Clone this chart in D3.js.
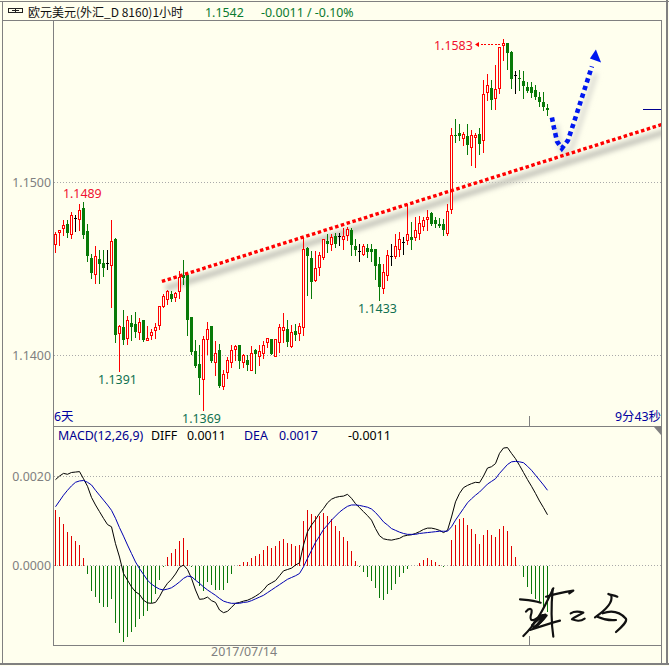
<!DOCTYPE html>
<html><head><meta charset="utf-8">
<script src="https://d3js.org/d3.v7.min.js"></script>
<style>
html,body{margin:0;padding:0;background:#ffffee;}
svg{display:block;}
text{font-family:"Noto Sans","Noto Sans CJK SC",sans-serif;font-size:12.4px;}
</style></head><body>
<svg id="c" width="669" height="666"></svg>
<script>
const opens=[1.1464,1.1471,1.14736,1.14762,1.14698,1.14794,1.14787,1.1485,1.14721,1.14561,1.14467,1.14559,1.14536,1.1453,1.14519,1.14671,1.1413,1.14162,1.14097,1.14189,1.1418,1.14131,1.14203,1.14089,1.14116,1.14147,1.14176,1.14286,1.14326,1.14357,1.14338,1.14368,1.14467,1.14463,1.1422,1.14027,1.13948,1.1386,1.14095,1.14168,1.13957,1.1403,1.13818,1.13899,1.13957,1.14037,1.14059,1.13957,1.13972,1.13916,1.14032,1.13997,1.14009,1.14078,1.14093,1.13997,1.14078,1.14147,1.14151,1.14053,1.1414,1.1413,1.14161,1.14619,1.14563,1.14436,1.14506,1.14569,1.1466,1.14639,1.14689,1.14689,1.14668,1.14696,1.14723,1.14631,1.146,1.14585,1.14619,1.14613,1.14613,1.1453,1.1439,1.14465,1.14571,1.14573,1.14615,1.14656,1.14665,1.14683,1.14681,1.14704,1.14748,1.14787,1.14821,1.14783,1.14763,1.14763,1.14708,1.14846,1.15276,1.15287,1.15257,1.1527,1.15205,1.15259,1.15278,1.15245,1.15519,1.15548,1.15488,1.15546,1.1579,1.15806,1.15756,1.15617,1.15605,1.15586,1.15551,1.1555,1.15532,1.15494,1.15463,1.15428];
const highs=[1.14713,1.14727,1.14781,1.14781,1.14829,1.1481,1.14877,1.14887,1.14762,1.14584,1.14631,1.14611,1.14611,1.14611,1.14781,1.14681,1.14178,1.14261,1.14226,1.14232,1.14251,1.14218,1.14203,1.14168,1.14155,1.14187,1.14289,1.14357,1.14376,1.1437,1.14367,1.14488,1.1455,1.14473,1.1422,1.14091,1.14058,1.1411,1.14193,1.14168,1.14084,1.14068,1.13914,1.13991,1.14059,1.14059,1.14059,1.1401,1.14001,1.14053,1.14039,1.14059,1.14082,1.14097,1.14093,1.14097,1.14184,1.14246,1.14203,1.14174,1.14184,1.14188,1.14685,1.14627,1.14602,1.14604,1.14598,1.14675,1.14704,1.147,1.14708,1.14708,1.14739,1.14743,1.14739,1.14675,1.14642,1.14646,1.14646,1.14646,1.14613,1.14569,1.1453,1.14607,1.14642,1.147,1.14713,1.14684,1.14873,1.14769,1.148,1.14804,1.148,1.14839,1.14829,1.148,1.14794,1.1479,1.14873,1.15314,1.15368,1.1534,1.15291,1.1534,1.15305,1.15286,1.15314,1.1559,1.15629,1.1559,1.15682,1.15783,1.15831,1.15806,1.15763,1.15644,1.15648,1.15644,1.1558,1.1558,1.15561,1.15523,1.15523,1.15451];
const lows=[1.14598,1.1464,1.14694,1.14684,1.14679,1.14719,1.14727,1.14681,1.14544,1.14447,1.1442,1.1442,1.14457,1.14501,1.1428,1.14078,1.1391,1.14068,1.14068,1.14087,1.14106,1.14097,1.14081,1.14087,1.14097,1.14103,1.14155,1.1428,1.14295,1.14315,1.14315,1.14334,1.14415,1.14116,1.1401,1.13933,1.13779,1.13683,1.1401,1.13962,1.13885,1.13818,1.13804,1.1387,1.13933,1.13972,1.13928,1.13933,1.13914,1.13914,1.13899,1.13943,1.13985,1.14049,1.14007,1.13997,1.1402,1.14078,1.14053,1.14049,1.14091,1.14091,1.14116,1.14348,1.14334,1.14431,1.14463,1.14556,1.14598,1.14608,1.14627,1.14637,1.14617,1.14666,1.14583,1.14583,1.14546,1.14579,1.14569,1.14546,1.14444,1.14322,1.14361,1.14438,1.14526,1.14563,1.14573,1.14584,1.14642,1.14615,1.14665,1.14675,1.14723,1.14723,1.14752,1.14742,1.14742,1.14694,1.14698,1.14823,1.15234,1.15247,1.15214,1.15162,1.15104,1.15089,1.15162,1.15176,1.15478,1.15422,1.15426,1.15517,1.15706,1.15654,1.15548,1.15517,1.15536,1.15488,1.15523,1.15494,1.15484,1.15445,1.15417,1.15393];
const closes=[1.14698,1.14721,1.1475,1.14708,1.14808,1.14794,1.14837,1.14698,1.14575,1.14476,1.14571,1.14528,1.14505,1.1453,1.14657,1.14118,1.14168,1.14089,1.14201,1.14162,1.14133,1.14189,1.14091,1.14097,1.14135,1.1416,1.14284,1.1434,1.14368,1.14326,1.14357,1.14449,1.14447,1.14205,1.1402,1.13939,1.13868,1.14091,1.14149,1.13968,1.1401,1.13825,1.13891,1.13972,1.1403,1.14053,1.13966,1.14001,1.13943,1.1401,1.14009,1.14024,1.14059,1.14097,1.14007,1.14093,1.14163,1.14163,1.14076,1.14134,1.14116,1.14168,1.14614,1.14573,1.14423,1.14502,1.14579,1.14669,1.14646,1.14683,1.14642,1.14689,1.14687,1.14729,1.14637,1.14608,1.146,1.14629,1.14596,1.14598,1.14515,1.14395,1.1448,1.14577,1.14571,1.14629,1.14669,1.14656,1.14698,1.14665,1.14723,1.14761,1.14781,1.14796,1.14758,1.14763,1.14746,1.14723,1.14831,1.1527,1.15266,1.15266,1.15276,1.15214,1.1527,1.1527,1.1522,1.15507,1.15559,1.15478,1.15536,1.15779,1.15806,1.1575,1.15598,1.15617,1.15598,1.15557,1.1553,1.15517,1.15494,1.15465,1.15436,1.1542];

const diff=[0.00193,0.00201,0.00207,0.00205,0.00209,0.0021,0.00211,0.00195,0.00178,0.00153,0.00136,0.00121,0.00106,0.00092,0.00087,0.00049,0.00019,-0.00018,-0.00033,-0.00048,-0.00059,-0.00065,-0.00078,-0.00084,-0.00085,-0.00083,-0.0007,-0.00053,-0.0004,-0.00031,-0.00019,-0.00004,0.00001,-0.00009,-0.00029,-0.00055,-0.00076,-0.00075,-0.00071,-0.00079,-0.00083,-0.001,-0.00106,-0.00103,-0.00094,-0.00085,-0.00083,-0.0008,-0.00078,-0.00074,-0.00069,-0.00063,-0.00055,-0.00044,-0.00039,-0.00034,-0.00023,-0.00012,-0.00009,-0.00006,0.00001,0.00006,0.00046,0.00076,0.00091,0.00103,0.00117,0.00128,0.00141,0.00149,0.00153,0.00155,0.00156,0.0016,0.00151,0.00139,0.0013,0.00121,0.00112,0.00102,0.00083,0.00067,0.0006,0.00058,0.00057,0.00059,0.00061,0.00066,0.00068,0.00069,0.00072,0.00076,0.00081,0.00084,0.00084,0.00082,0.00079,0.00074,0.00079,0.00109,0.00143,0.00162,0.00175,0.0018,0.00184,0.00187,0.00186,0.00201,0.00219,0.00222,0.00229,0.00252,0.00264,0.00265,0.00252,0.0024,0.00225,0.00209,0.00193,0.00178,0.00162,0.00145,0.0013,0.00114];
const dea=[0.00132,0.00145,0.00158,0.00169,0.00179,0.00187,0.0019,0.00191,0.00187,0.00181,0.00169,0.00158,0.00147,0.00136,0.00124,0.00106,0.00085,0.00066,0.00046,0.00027,0.00008,-0.00007,-0.0002,-0.00033,-0.00042,-0.00048,-0.00053,-0.00055,-0.00053,-0.0005,-0.00044,-0.00037,-0.00029,-0.00024,-0.00025,-0.00033,-0.0004,-0.00048,-0.00055,-0.00061,-0.00067,-0.00074,-0.0008,-0.00083,-0.00085,-0.00085,-0.00085,-0.00083,-0.00082,-0.00079,-0.00075,-0.00071,-0.00067,-0.00061,-0.00055,-0.00049,-0.00043,-0.00037,-0.00031,-0.00027,-0.00023,-0.00018,-0.00003,0.00016,0.00034,0.00052,0.00066,0.00081,0.00091,0.00102,0.00111,0.0012,0.00127,0.00133,0.00136,0.00136,0.00135,0.00133,0.00131,0.00127,0.00119,0.00109,0.00098,0.00091,0.00083,0.00079,0.00075,0.00072,0.0007,0.0007,0.0007,0.00072,0.00073,0.00074,0.00075,0.00076,0.00077,0.00077,0.00077,0.00087,0.00102,0.00115,0.00128,0.00141,0.0015,0.00158,0.00165,0.00174,0.00183,0.00189,0.00195,0.00207,0.00217,0.00227,0.00233,0.00234,0.00233,0.00231,0.00223,0.00214,0.00203,0.00192,0.00181,0.00169];
const hist=[0.00124,0.00109,0.00094,0.00075,0.00066,0.00055,0.00046,0.00016,-0.00019,-0.00058,-0.00071,-0.00084,-0.00093,-0.00093,-0.00075,-0.00129,-0.00151,-0.00172,-0.0016,-0.00149,-0.00139,-0.0012,-0.00114,-0.00103,-0.00085,-0.00064,-0.00033,-0.00003,0.00018,0.00029,0.00038,0.00055,0.00061,0.00034,-0.00004,-0.00033,-0.00046,-0.00057,-0.00037,-0.00044,-0.00054,-0.00055,-0.00054,-0.00039,-0.00019,0,0.00001,0.00007,0.00007,0.00017,0.00022,0.00026,0.00034,0.00043,0.00039,0.00043,0.00055,0.00059,0.00051,0.00049,0.00043,0.00046,0.001,0.00124,0.00115,0.00111,0.00112,0.00118,0.00111,0.00104,0.00088,0.00077,0.00064,0.00055,0.00032,0.0001,-0.00004,-0.00015,-0.00025,-0.00035,-0.0005,-0.00074,-0.00078,-0.00064,-0.00054,-0.00042,-0.00025,-0.00016,-0.00007,-0.00001,0,0.00006,0.00012,0.00016,0.00012,0.00007,0.00001,-0.00003,0,0.00057,0.00091,0.00105,0.00106,0.00091,0.00082,0.0007,0.00049,0.00068,0.00079,0.00068,0.00063,0.00082,0.00088,0.00077,0.00043,0.00018,-0.00001,-0.00025,-0.00048,-0.00063,-0.00076,-0.00082,-0.00093,-0.00104];

const priceTicks=[1.15,1.14];
const macdTicks=[0.002,0];
const dateTickIndex=[47];
const dateTickLabels=["2017/07/14"];
const dayBreakIndex=[118.5];
const priceCallouts=[
 {label:"1.1489",i:6.7,p:1.14887,dy:-4,color:"#f01030"},
 {label:"1.1391",i:15.5,p:1.1391,dy:13,color:"#107050"},
 {label:"1.1433",i:80.5,p:1.14322,dy:13,color:"#107050"},
 {label:"1.1369",i:36.5,p:1.13683,dy:13,color:"#107050"}
];
const trendIdx=[26.6,151.6], trendPrice=[1.14428,1.15335];
const forecastIdx=[124.1,124.6,125.4,126.6,128.1,129.6,134.1];
const forecastPrice=[1.15376,1.15318,1.15237,1.15197,1.15243,1.15347,1.15671];
const arrowIdx=[135.1,133.6,136.4], arrowPrice=[1.15769,1.15717,1.15694];
const signatureStrokes=[
"M30,58C50,60 70,61 92,68","M108,50C135,42 165,36 190,32L178,40",
"M130,25C112,62 85,125 40,168","M128,28C124,70 124,130 130,170",
"M48,95C55,86 72,78 62,108C58,130 78,118 92,108C104,100 104,108 76,140C68,150 98,124 110,106",
"M72,128C84,112 96,106 106,104C100,120 86,134 70,142","M66,136C80,120 92,112 102,112",
"M60,150C90,140 120,130 150,122",
"M182,100C192,94 206,94 220,98C208,106 194,110 186,118C198,122 210,126 224,116",
"M295,42C302,46 312,45 322,50","M304,48C308,64 296,84 255,112",
"M278,100C300,92 324,90 348,116C352,126 336,140 318,156","M262,110C280,118 300,122 318,120"
];

const BG="#ffffee",GRAY="#808080",RED="#ff0000",GREEN="#087a08",NAVY="#000090";
const svg=d3.select("#c");
const defs=svg.append("defs");
defs.append("filter").attr("id","soft").attr("filterUnits","userSpaceOnUse").attr("x",0).attr("y",0).attr("width",669).attr("height",440)
  .append("feGaussianBlur").attr("stdDeviation",2.6);

const x=d3.scaleLinear().domain([0,123]).range([55.5,547.5]);
const y=d3.scaleLinear().domain([1.15,1.14]).range([182.5,355.5]);
const ym=d3.scaleLinear().domain([0.002,0]).range([476.5,565.5]);
const px=v=>Math.round(v-0.5)+0.5;
const idx=d3.range(opens.length);

// frame
const frame=svg.append("g").attr("shape-rendering","crispEdges");
frame.append("rect").attr("width",669).attr("height",666).attr("fill",BG);
const fline=(a,b,c,d,w,col)=>frame.append("line").attr("x1",a).attr("y1",b).attr("x2",c).attr("y2",d).attr("stroke",col||GRAY).attr("stroke-width",w||1);
fline(0,1.5,669,1.5);fline(2.5,1,2.5,665);fline(0,664,669,664,2);
fline(2,20.5,662,20.5);fline(53.5,20,53.5,646);fline(53,426.5,662,426.5);fline(53,645.5,662,645.5);
fline(661.5,20,661.5,664);fline(666.5,0,666.5,665,2);
dayBreakIndex.forEach(d=>{const X=px(x(d));fline(X,416,X,426);fline(X,636,X,645);});

// grid
const grid=svg.append("g").attr("shape-rendering","crispEdges");
const gl=(sel,scale,vals)=>sel.selectAll(null).data(vals).join("line").attr("x1",54).attr("x2",661)
  .attr("y1",d=>scale(d)).attr("y2",d=>scale(d)).attr("stroke","#aaaaaa").attr("stroke-dasharray","1 2");
gl(grid,y,priceTicks);gl(grid,ym,macdTicks);

// axes
const styleAxis=g=>{g.select(".domain").remove();g.selectAll("line").remove();g.selectAll("text").attr("fill",GRAY).attr("font-size",12.4);};
svg.append("g").attr("transform","translate(53,0)").call(d3.axisLeft(y).tickValues(priceTicks).tickFormat(d3.format(".4f")).tickSize(0).tickPadding(2)).call(styleAxis);
svg.append("g").attr("transform","translate(53,0)").call(d3.axisLeft(ym).tickValues(macdTicks).tickFormat(d3.format(".4f")).tickSize(0).tickPadding(2)).call(styleAxis);
svg.append("g").attr("transform","translate(0,647)").call(d3.axisBottom(x).tickValues(dateTickIndex).tickFormat((d,i)=>dateTickLabels[i]).tickSize(0).tickPadding(0)).call(styleAxis);

// trend shadow
const tl=d3.line().x(d=>x(d[0])).y(d=>y(d[1]));
const trend=d3.zip(trendIdx,trendPrice);
const fc=d3.zip(forecastIdx,forecastPrice);
defs.append("clipPath").attr("id","pane").append("rect").attr("x",54).attr("y",21).attr("width",607).attr("height",405);
const shadows=svg.append("g").attr("clip-path","url(#pane)").append("g").attr("filter","url(#soft)").append("g").attr("transform","translate(4,7)");
shadows.append("path").attr("d",tl(trend)).attr("fill","none").attr("stroke","#c6c6bc").attr("stroke-width",6);
shadows.append("path").attr("d",tl(fc)).attr("fill","none").attr("stroke","#deded4").attr("stroke-width",5);

// candles
const wick=svg.append("g").attr("shape-rendering","crispEdges");
wick.selectAll("line").data(idx).join("line")
  .attr("x1",i=>x(i)).attr("x2",i=>x(i))
  .attr("y1",i=>Math.round(y(highs[i]))).attr("y2",i=>Math.round(y(lows[i]))+1)
  .attr("stroke",i=>closes[i]>opens[i]?RED:closes[i]<opens[i]?GREEN:"#000");
const body=svg.append("g").attr("shape-rendering","crispEdges");
body.selectAll("rect").data(idx.filter(i=>closes[i]<opens[i])).join("rect")
  .attr("x",i=>x(i)-1.5).attr("width",3)
  .attr("y",i=>Math.round(y(opens[i]))).attr("height",i=>Math.max(1,Math.round(y(closes[i]))-Math.round(y(opens[i]))))
  .attr("fill",GREEN);
body.append("g").selectAll("rect").data(idx.filter(i=>closes[i]>opens[i])).join("rect")
  .attr("x",i=>x(i)-1).attr("width",2)
  .attr("y",i=>px(y(closes[i]))).attr("height",i=>Math.max(1,px(y(opens[i]))-px(y(closes[i]))))
  .attr("fill",BG).attr("stroke",RED);
body.append("g").selectAll("line").data(idx.filter(i=>closes[i]===opens[i])).join("line")
  .attr("x1",i=>x(i)-1.5).attr("x2",i=>x(i)+1.5).attr("y1",i=>px(y(closes[i]))).attr("y2",i=>px(y(closes[i]))).attr("stroke","#000");

// annotations
svg.append("g").attr("clip-path","url(#pane)").append("path").attr("d",tl(trend)).attr("fill","none").attr("stroke",RED).attr("stroke-width",3.4).attr("stroke-dasharray","3.5 2.55");
svg.append("path").attr("d",tl(fc)).attr("fill","none").attr("stroke","#0018f0").attr("stroke-width",4.6).attr("stroke-dasharray","4.4 3.6");
svg.append("path").attr("d",tl(d3.zip(arrowIdx,arrowPrice))+"Z").attr("fill","#0018f0");
svg.append("line").attr("x1",643).attr("x2",661).attr("y1",109.5).attr("y2",109.5).attr("stroke",NAVY).attr("shape-rendering","crispEdges");

// callouts
const label=(s,X,Y,c,a)=>svg.append("text").attr("x",X).attr("y",Y).attr("fill",c).attr("text-anchor",a||"start").text(s);
priceCallouts.forEach(d=>{label(d.label,x(d.i),y(d.p)+d.dy,d.color,"middle");});
label("1.1583",434,50,"#f01030");
svg.append("line").attr("x1",477).attr("x2",503).attr("y1",44.5).attr("y2",44.5).attr("stroke",RED).attr("stroke-dasharray","2 1.5").attr("shape-rendering","crispEdges");
svg.append("path").attr("d","M475,44.5L479,42L479,47Z").attr("fill",RED);

// MACD
const hb=svg.append("g").attr("shape-rendering","crispEdges");
hb.selectAll("line").data(idx.filter(i=>hist[i]!==0)).join("line")
  .attr("x1",i=>x(i)).attr("x2",i=>x(i)).attr("y1",ym(0)).attr("y2",i=>ym(hist[i]))
  .attr("stroke",i=>hist[i]>0?"#e00000":"#0a780a");
const ml=d3.line().x((d,i)=>x(i)).y(d=>ym(d));
svg.append("path").attr("d",ml(diff)).attr("fill","none").attr("stroke","#000").attr("stroke-width",1);
svg.append("path").attr("d",ml(dea)).attr("fill","none").attr("stroke","#0000b0").attr("stroke-width",1);

// corner mark
svg.append("path").attr("d","M654,427L661,427L661,435Z").attr("fill",GRAY);

// header
const icon=svg.append("g").attr("fill","none").attr("stroke","#222").attr("shape-rendering","crispEdges");
icon.append("rect").attr("x",8.5).attr("y",8.5).attr("width",7).attr("height",4);
icon.append("rect").attr("x",15.5).attr("y",8.5).attr("width",7).attr("height",4);
icon.append("line").attr("x1",12).attr("x2",19).attr("y1",10.5).attr("y2",10.5);
label("欧元美元(外汇_D 8160)1小时",28,17,"#111").style("font-family",'"Noto Sans CJK SC"').style("font-size","12px");
label("1.1542",205,17,"#0a7a30");
label("-0.0011 / -0.10%",261,17,"#0a7a30");
label("6天",54,421,"#0000a0");
label("9分43秒",661,421,"#0000a0","end");
label("MACD(12,26,9)",58,440,NAVY);
label("DIFF",151,440,"#000");
label("0.0011",187,440,"#000");
label("DEA",244,440,NAVY);
label("0.0017",279,440,NAVY);
label("-0.0011",348,440,"#000");

// signature
svg.append("g").attr("transform","translate(510,580) scale(0.3333)").selectAll("path").data(signatureStrokes).join("path")
  .attr("d",d=>d).attr("fill","none").attr("stroke","#111").attr("stroke-width",6.5).attr("stroke-linecap","round").attr("stroke-linejoin","round");
</script></body></html>
